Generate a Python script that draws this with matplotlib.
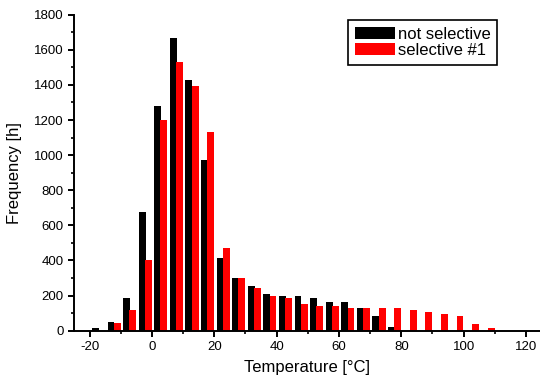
import numpy as np
import matplotlib
matplotlib.use("Agg")
import matplotlib.pyplot as plt
from matplotlib.ticker import MultipleLocator

plt.rcParams['font.family'] = ['Liberation Sans', 'DejaVu Sans']
plt.rcParams['axes.unicode_minus'] = False

## histogram bins (left edge, 5 degC wide)
bin_left = np.arange(-20, 110, 5)
not_selective = [14, 50, 186, 676, 1280, 1667, 1428, 972, 416, 302, 255, 209, 199,
                 199, 188, 165, 165, 131, 85, 19, 0, 0, 0, 0, 0, 0]
selective_1 = [0, 42, 118, 402, 1200, 1532, 1393, 1132, 471, 302, 245, 199, 188,
               154, 143, 143, 131, 131, 131, 131, 120, 108, 97, 85, 40, 17]

fig = plt.figure(figsize=(5.4, 3.82), dpi=100)
ax = fig.add_axes([74/540, 1-330.7/382, 1-74/540, (330.7-14.7)/382])

ax.bar(bin_left + 1.85, not_selective, width=2.2, color='black', label='not selective')
ax.bar(bin_left + 3.85, selective_1, width=2.2, color='red', label='selective #1')

ax.set_xlim(-25, 124.5)
ax.set_ylim(0, 1800)
ax.xaxis.set_major_locator(MultipleLocator(20))
ax.xaxis.set_minor_locator(MultipleLocator(10))
ax.yaxis.set_major_locator(MultipleLocator(200))
ax.yaxis.set_minor_locator(MultipleLocator(100))

for s in ['top', 'right']:
    ax.spines[s].set_visible(False)
for s in ['left', 'bottom']:
    ax.spines[s].set_linewidth(1.4)
ax.tick_params(which='major', direction='out', length=4, width=1.4, labelsize=9.5)
ax.tick_params(which='minor', direction='out', length=2.5, width=1.2)

ax.set_xlabel('Temperature [°C]', fontsize=12, labelpad=5)
ax.set_ylabel('Frequency [h]', fontsize=12, labelpad=8.5)

leg = ax.legend(loc='upper left', bbox_to_anchor=(348/540, 1-20/382),
                bbox_transform=fig.transFigure, borderaxespad=0, fontsize=12,
                fancybox=False, framealpha=1, edgecolor='black',
                handlelength=2.4, handleheight=0.8, handletextpad=0.2,
                labelspacing=0.05, borderpad=0.4)
leg.get_frame().set_linewidth(1.2)

fig.savefig('out.png', dpi=100)
